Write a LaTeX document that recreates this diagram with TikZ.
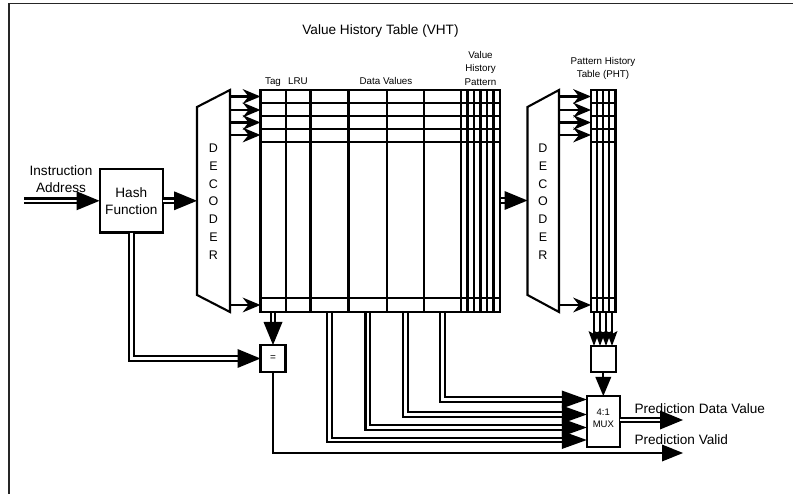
\documentclass[tikz,border=0pt]{standalone}
\usepackage{fontspec}
\setmainfont{Liberation Sans}
\usetikzlibrary{arrows.meta}
\begin{document}
\begin{tikzpicture}[x=1pt,y=-1pt,line join=miter,
  ln/.style={line width=2.1pt},
  bus/.style={double, double distance=2.4pt, line width=2.1pt},
  box/.style={draw, line width=2.1pt, inner sep=0pt, outer sep=0pt},
  big/.style={font=\fontsize{13.6}{17}\selectfont},
  small/.style={font=\fontsize{9.8}{13.3}\selectfont},
  dec/.style={font=\fontsize{12.5}{17.8}\selectfont, align=center},
  chev/.style={-{Stealth[length=18pt,width=15pt,inset=6pt,line width=0pt]}},
  tri/.style={-{Triangle[length=23pt,width=19pt,line width=0pt]}},
  trim/.style={-{Triangle[length=25pt,width=18pt,line width=0pt]}},
  trival/.style={-{Triangle[length=21pt,width=17pt,line width=0pt]}},
  trimid/.style={-{Triangle[length=19pt,width=16pt,line width=0pt]}},
  trinar/.style={-{Stealth[length=15pt,width=11pt,inset=3pt,line width=0pt]}},
]
\useasboundingbox (0,0) rectangle (793,494);
\draw[line width=1.4pt, black!85] (9,494) -- (9,3.5) -- (793,3.5);

% ---------- titles ----------
\node[big, anchor=base] (title) at (380.5,35) {Value History Table (VHT)};
\node[small, anchor=base] (tag) at (273,85) {Tag};
\node[small, anchor=base] (lru) at (298,85) {LRU};
\node[small, anchor=base] (dv) at (386,85) {Data Values};
\node[small, align=center] (vhp) at (480.5,68.4) {Value\\History\\Pattern};
\node[small, align=center] (phtl) at (603,68.4) {Pattern History\\Table (PHT)};

% ---------- hash ----------
\node[box, big, minimum width=63.5pt, minimum height=63.5pt, align=center] (hash) at (131.3,200.8) {Hash\\Function};
\node[big, align=center] (ia) at (61,179.5) {Instruction\\Address};
\coordinate (iastart) at (24,200.8);
\draw[bus,tri] (iastart) -- (hash.west);

% ---------- decoder 1 ----------
\coordinate (dec1w) at (197,201);
\coordinate (dec1e) at (230,201);
\draw[ln] (197,107) -- (230,90) -- (230,312) -- (197,295) -- cycle;
\node[dec] (dec1txt) at (213.5,201.7) {D\\E\\C\\O\\D\\E\\R};
\draw[bus,tri] (hash.east) -- (dec1w |- hash.east);

% ---------- VHT ----------
\node[box, minimum width=239.5pt, minimum height=222pt, anchor=north west] (vht) at (260.5,90) {};
\foreach \y in {103,116,129,142,298} \draw[ln] (260.5,\y) -- (500,\y);
\foreach \x in {286,310.5,348.5,387,424,461,467.5,474,480.5,487,493.5} \draw[ln] (\x,90) -- (\x,312);
\foreach \y in {96.5,110,122.5,135,305} \draw[ln,chev] (dec1e |- 0,\y) -- (vht.west |- 0,\y);

% ---------- compare ----------
\node[box, minimum width=25pt, minimum height=27pt, font=\fontsize{10}{12}\selectfont] (eq) at (273,358.5) {=};
\coordinate (tagbot) at (273,313);
\draw[bus,tri] (tagbot) -- (eq.north);
\draw[bus,tri] (hash.south) |- (eq.west);

% ---------- MUX ----------
\node[box, minimum width=33pt, minimum height=51pt] (mux) at (603.3,421.5) {};
\node[font=\fontsize{9.5}{12}\selectfont, align=center] (muxtxt) at (603.3,418) {4:1\\MUX};
\foreach \x/\y in {329.5/440, 367.75/427.5, 405.5/414.5, 442.5/399.5}
  \draw[bus,trim] (\x,313) |- (mux.west |- 0,\y);

\coordinate (pdv) at (683,420);
\draw[bus,tri] (mux.east |- pdv) -- (pdv);
\node[big, anchor=base west] (pdvtxt) at (631,413.3) {Prediction Data Value};
\coordinate (pv) at (683,453);
\draw[ln,trival] (eq.south) |- (pv);
\node[big, anchor=base west] (pvtxt) at (631,444.5) {Prediction Valid};

% ---------- decoder 2 ----------
\coordinate (dec2w) at (527.5,201);
\coordinate (dec2e) at (559,201);
\draw[ln] (527.5,107) -- (559,90) -- (559,312) -- (527.5,295) -- cycle;
\node[dec] (dec2txt) at (543,201.7) {D\\E\\C\\O\\D\\E\\R};
\draw[bus,tri] (501,200.5) -- (dec2w |- 0,200.5);

% ---------- PHT ----------
\node[box, minimum width=24.5pt, minimum height=222pt, anchor=north west] (pht) at (591,90) {};
\foreach \y in {103,116,129,142,298} \draw[ln] (591,\y) -- (615.5,\y);
\foreach \x in {597,603,609} \draw[ln] (\x,90) -- (\x,312);
\foreach \y in {96.5,110,122.5,135,305} \draw[ln,chev] (dec2e |- 0,\y) -- (pht.west |- 0,\y);

\node[box, minimum width=24.5pt, minimum height=26pt] (phtbox) at (603.3,359) {};
\foreach \x in {594,600,606,612} \draw[ln,trinar] (\x,313) -- (phtbox.north -| \x,0);
\draw[ln,trimid] (phtbox.south) -- (mux.north);
\end{tikzpicture}
\end{document}
